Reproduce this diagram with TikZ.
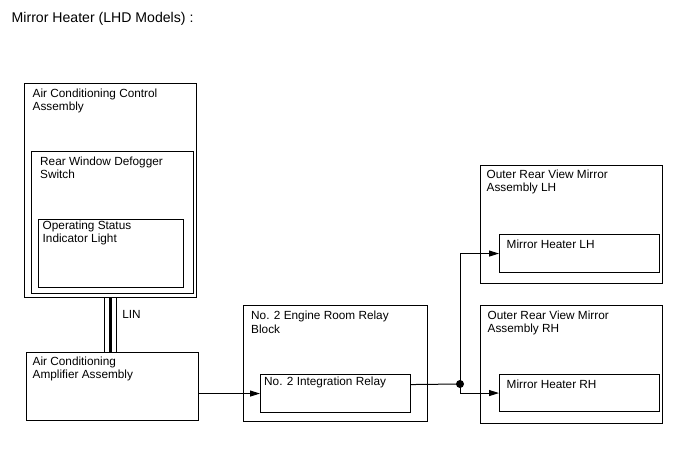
\documentclass[tikz,border=0pt]{standalone}
\usepackage{fontspec}
\setmainfont{Liberation Sans}
\usepackage{tikz}
\usetikzlibrary{arrows.meta, positioning}

\begin{document}
\begin{tikzpicture}[x=1pt, y=-1pt, >={Triangle[length=10pt, width=6pt]},
    box/.style={draw, line width=1.1pt, rectangle, inner sep=0pt, anchor=north west},
    txt/.style={anchor=north west, inner sep=0pt, align=left, font=\fontsize{11.8}{13.5}\selectfont},
    wire/.style={line width=1pt}]
        \useasboundingbox (0,0) rectangle (688,463);

        % Title
        \node[anchor=base west, inner sep=0pt, font=\fontsize{14.1}{16}\selectfont] (title) at (11.5,22.7) {Mirror Heater (LHD Models) :};

        % Boxes
        \node[box, minimum width=172pt, minimum height=214pt] (acc) at (24,83) {};
        \node[box, minimum width=162pt, minimum height=142pt] (rwd) at (31,151) {};
        \node[box, minimum width=145pt, minimum height=68pt] (osi) at (38,219) {};
        \node[box, minimum width=172pt, minimum height=68pt] (aca) at (26,352) {};
        \node[box, minimum width=184pt, minimum height=116pt] (erb) at (243,305) {};
        \node[box, minimum width=150pt, minimum height=38pt] (ir) at (260,374) {};
        \node[box, minimum width=182pt, minimum height=118pt] (ormlh) at (480,165) {};
        \node[box, minimum width=160pt, minimum height=38pt] (mhlh) at (499,234) {};
        \node[box, minimum width=182pt, minimum height=118pt] (ormrh) at (480,305) {};
        \node[box, minimum width=160pt, minimum height=37pt] (mhrh) at (499,374) {};

        % Texts
        \node[txt] (acc-t) at ([shift={(8.5pt,-5.5pt)}]acc.north west) {Air Conditioning Control\\Assembly};
        \node[txt] (rwd-t) at ([shift={(9pt,-5.5pt)}]rwd.north west) {Rear Window Defogger\\Switch};
        \node[txt] (osi-t) at ([shift={(4.5pt,-1.5pt)}]osi.north west) {Operating Status\\Indicator Light};
        \node[txt] (aca-t) at ([shift={(6.5pt,-4.5pt)}]aca.north west) {Air Conditioning\\Amplifier Assembly};
        \node[txt] (erb-t) at ([shift={(8pt,-6pt)}]erb.north west) {No. 2 Engine Room Relay\\Block};
        \node[txt] (ir-t) at ([shift={(4pt,-3pt)}]ir.north west) {No. 2 Integration Relay};
        \node[txt] (ormlh-t) at ([shift={(6.5pt,-4.5pt)}]ormlh.north west) {Outer Rear View Mirror\\Assembly LH};
        \node[txt] (mhlh-t) at ([shift={(7.5pt,-5.5pt)}]mhlh.north west) {Mirror Heater LH};
        \node[txt] (ormrh-t) at ([shift={(7.5pt,-5.5pt)}]ormrh.north west) {Outer Rear View Mirror\\Assembly RH};
        \node[txt] (mhrh-t) at ([shift={(7.5pt,-5.5pt)}]mhrh.north west) {Mirror Heater RH};

        % LIN bus
        \draw[line width=3pt] (acc.south) -- (acc.south |- aca.north);
        \draw[line width=1pt] ([xshift=-6pt]acc.south) -- ([xshift=-6pt]acc.south |- aca.north);
        \draw[line width=1pt] ([xshift=6pt]acc.south) -- ([xshift=6pt]acc.south |- aca.north);
        \node[txt, anchor=west] (lin) at ([xshift=11.5pt, yshift=-16pt]acc.south) {LIN};

        % Amplifier to relay
        \draw[wire, ->] (aca.east |- ir.west) -- (ir.west);

        % Relay to mirror heaters
        \coordinate (jn) at (460,384);
        \coordinate (jd) at (jn |- mhrh.west);
        \draw[wire] ([yshift=9pt]ir.east) -- (jn);
        \draw[wire, ->] (jn) |- (mhlh.west);
        \draw[wire, ->] (jn) -- (jd) -- (mhrh.west);
        \fill (jn) circle (4pt);
    \end{tikzpicture}
\end{document}
